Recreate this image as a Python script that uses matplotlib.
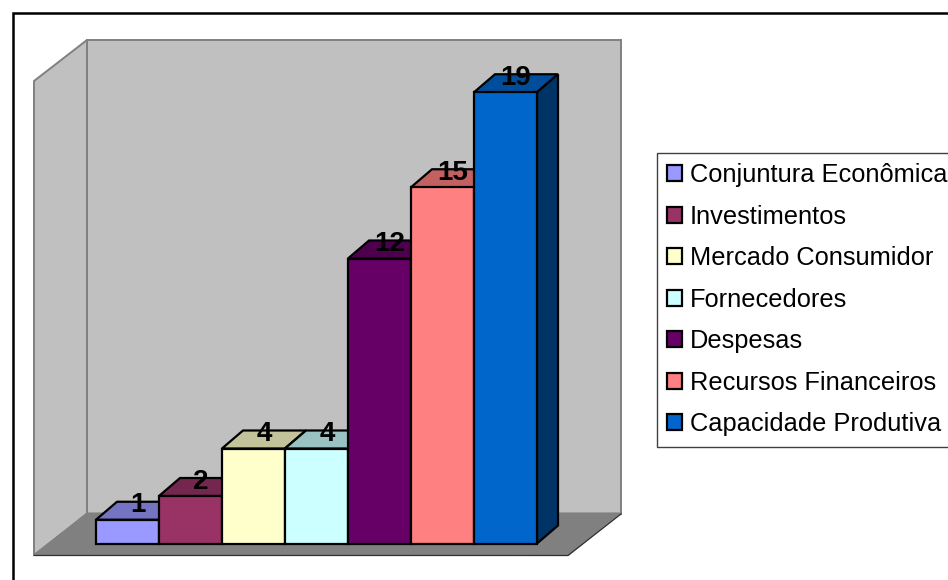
import matplotlib
matplotlib.use("Agg")
import matplotlib.pyplot as plt
from matplotlib.patches import Polygon
from matplotlib.transforms import Affine2D

plt.rcParams['font.family'] = ['Liberation Sans', 'DejaVu Sans']

categories = ["Conjuntura Econômica", "Investimentos", "Mercado Consumidor", "Fornecedores",
              "Despesas", "Recursos Financeiros", "Capacidade Produtiva"]
values = [1, 2, 4, 4, 12, 15, 19]
colors = ["#9999FF", "#993366", "#FFFFCC", "#CCFFFF", "#660066", "#FF8080", "#0066CC"]

W, H = 948, 580
X0, Y0 = 96, 543.5   # pixel position of the data origin
PX_X, PX_Y = 63.0, 23.75   # pixels per data unit
DEPTH_X, DEPTH_Y = 21 / PX_X, 18 / PX_Y


def shade(hex_color, k):
    rgb = matplotlib.colors.to_rgb(hex_color)
    return tuple(c * k for c in rgb)


fig = plt.figure(figsize=(W / 100, H / 100), dpi=100)
ax = fig.add_axes([0, 0, 1, 1])
ax.set_xlim(-X0 / PX_X, (W - X0) / PX_X)
ax.set_ylim(-(H - Y0) / PX_Y, Y0 / PX_Y)
ax.axis('off')

# walls and floor are placed in image pixels (y going down)
pix = Affine2D().scale(1, -1).translate(0, H)

back_wall = [(87, 40), (621, 40), (621, 514), (87, 514)]
side_wall = [(34, 81), (87, 40), (87, 514), (34, 555)]
floor = [(34, 555), (87, 513), (621, 513), (568, 555.5)]
ax.add_patch(Polygon(back_wall, transform=pix, fc='#C0C0C0', ec='#808080', lw=1.4, zorder=1))
ax.add_patch(Polygon(side_wall, transform=pix, fc='#C0C0C0', ec='#808080', lw=1.4, zorder=1))
ax.add_patch(Polygon(floor, transform=pix, fc='#808080', ec='#808080', lw=0.8, zorder=2))
ax.plot([34, 568, 621], [555.5, 555.5, 514], transform=pix, color='#303030', lw=0.9, zorder=2)

# outer frame, only the top and left sides fall inside the image
ax.plot([12.5, 12.5, W], [H, 12.5, 12.5], transform=pix, color='black', lw=1.8,
        solid_joinstyle='miter', zorder=30)

# 3d bars: top and side faces first, then the front
for i, (name, val, col) in enumerate(zip(categories, values, colors)):
    z = 3 + i
    top = [(i, val), (i + DEPTH_X, val + DEPTH_Y), (i + 1 + DEPTH_X, val + DEPTH_Y), (i + 1, val)]
    side = [(i + 1, 0), (i + 1 + DEPTH_X, DEPTH_Y), (i + 1 + DEPTH_X, val + DEPTH_Y), (i + 1, val)]
    ax.add_patch(Polygon(top, fc=shade(col, 0.76), ec='black', lw=1.6, zorder=z, joinstyle='miter'))
    ax.add_patch(Polygon(side, fc=shade(col, 0.5), ec='black', lw=1.6, zorder=z, joinstyle='miter'))
    ax.bar(i, val, width=1, align='edge', color=col, edgecolor='black', linewidth=1.6,
           label=name, zorder=z + 0.5)
    ax.annotate(str(val), xy=(i + 0.5, val), xytext=(7.5, 10.3), textcoords='offset points',
                ha='center', va='center', fontsize=20, fontweight='bold', color='black', zorder=20)

leg = ax.legend(loc='upper left', bbox_to_anchor=(657 / W, 1 - 153 / H), bbox_transform=fig.transFigure,
                fontsize=18.3, borderaxespad=0, borderpad=0.40, labelspacing=0.69,
                handlelength=0.59, handleheight=0.59, handletextpad=0.31,
                fancybox=False, framealpha=1, edgecolor='#404040', facecolor='white')
leg.get_frame().set_linewidth(1.0)
leg.set_zorder(25)

fig.savefig("out.png", dpi=100)
